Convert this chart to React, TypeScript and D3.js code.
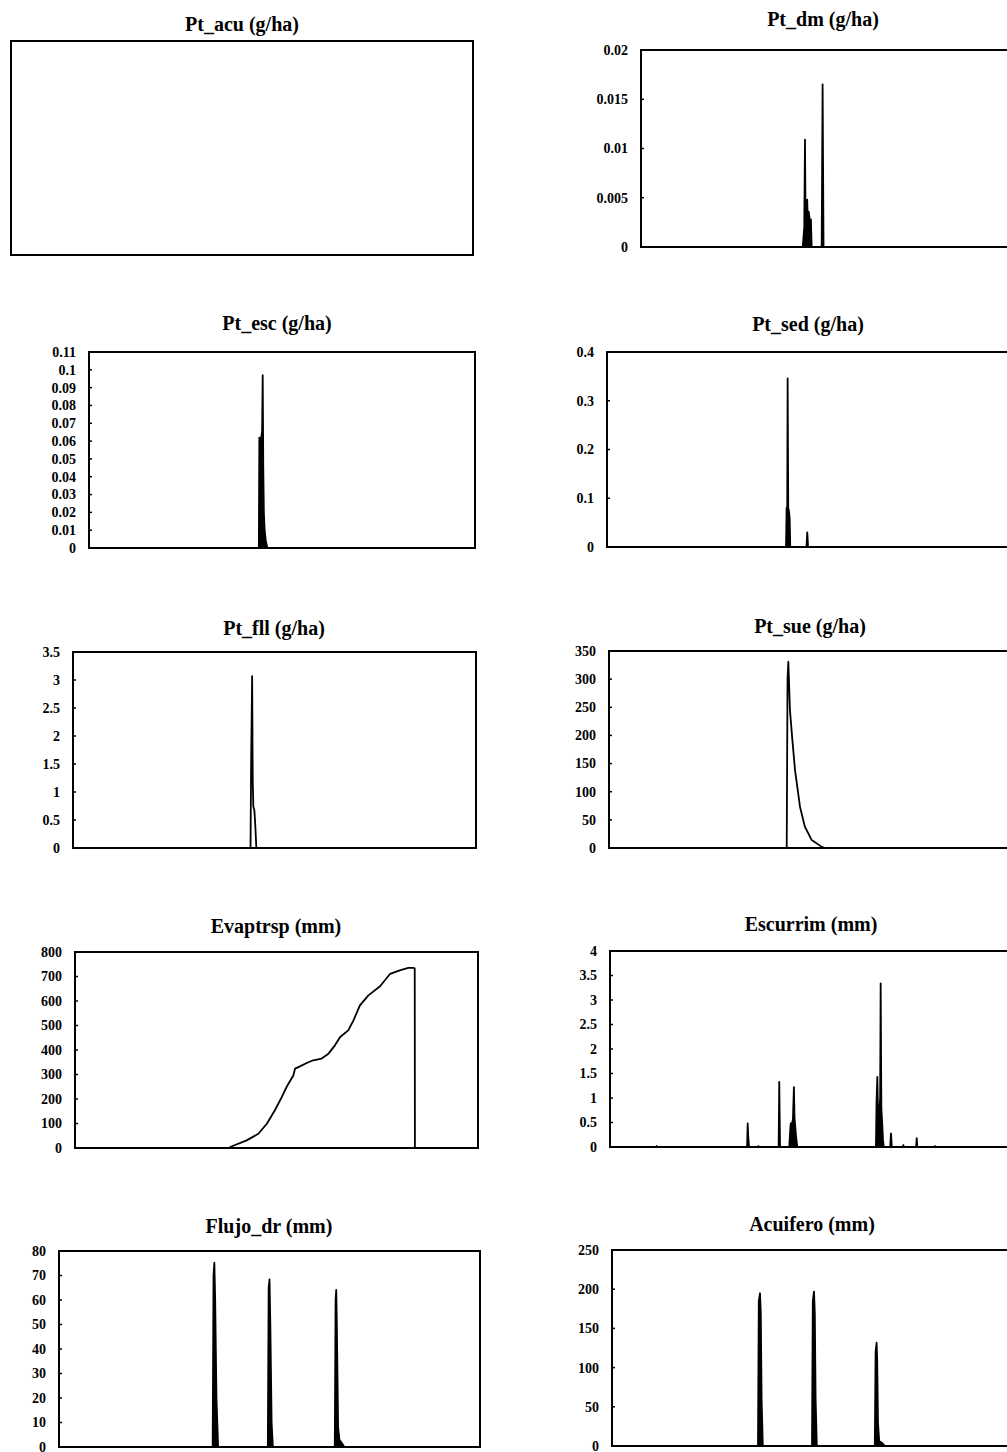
import React from "react";
import * as d3 from "d3";

type Punto = [number, number];

// eje X común a todos los paneles: paso de simulación
const dominioPasos: [number, number] = [0, 1000];

const titulos = [
  "Pt_acu (g/ha)",
  "Pt_esc (g/ha)",
  "Pt_fll (g/ha)",
  "Evaptrsp (mm)",
  "Flujo_dr (mm)",
  "Pt_dm (g/ha)",
  "Pt_sed (g/ha)",
  "Pt_sue (g/ha)",
  "Escurrim (mm)",
  "Acuifero (mm)",
];

// etiquetas del eje Y de cada panel
const ticksPtAcu: string[] = [];
const ticksPtEsc = ["0", "0.01", "0.02", "0.03", "0.04", "0.05", "0.06", "0.07", "0.08", "0.09", "0.1", "0.11"];
const ticksPtFll = ["0", "0.5", "1", "1.5", "2", "2.5", "3", "3.5"];
const ticksEvap = ["0", "100", "200", "300", "400", "500", "600", "700", "800"];
const ticksFlujo = ["0", "10", "20", "30", "40", "50", "60", "70", "80"];
const ticksPtDm = ["0", "0.005", "0.01", "0.015", "0.02"];
const ticksPtSed = ["0", "0.1", "0.2", "0.3", "0.4"];
const ticksPtSue = ["0", "50", "100", "150", "200", "250", "300", "350"];
const ticksEscurrim = ["0", "0.5", "1", "1.5", "2", "2.5", "3", "3.5", "4"];
const ticksAcuifero = ["0", "50", "100", "150", "200", "250"];

// series: [paso, valor]; entre puntos listados el valor es 0
const ptAcu: Punto[] = [];

const ptEsc: Punto[] = [
  [0, 0], [440, 0], [441.3, 0.062], [444, 0.06], [447, 0.063], [448.5, 0.066],
  [450, 0.097], [451.5, 0.045], [453, 0.02], [455, 0.01], [458, 0.004], [462, 0], [1000, 0],
];

const ptFll: Punto[] = [
  [0, 0], [440.5, 0], [442, 1.5], [444.5, 3.07], [446, 1.2], [447.5, 0.74],
  [450, 0.68], [452, 0.45], [455, 0], [1000, 0],
];

const evaptrsp: Punto[] = [
  [0, 0], [384, 0], [385, 4], [426, 31], [455, 58], [476, 99], [496, 154], [513, 208],
  [525, 249], [542, 297], [546, 324], [558, 333], [575, 347], [591, 358], [612, 365],
  [629, 385], [645, 419], [658, 453], [678, 480], [691, 521], [707, 582], [728, 623],
  [757, 660], [782, 711], [806, 725], [827, 735], [839, 735], [843, 733], [843.5, 0], [1000, 0],
];

const flujoDr: Punto[] = [
  [0, 0], [365, 0], [367, 70], [369, 75.2], [371, 60], [374, 20], [378, 0],
  [496, 0], [498, 65], [500, 68.4], [502, 50], [505, 10], [508, 0],
  [655, 0], [657, 60], [658.5, 64.1], [660, 50], [663, 8], [666, 3], [672, 1.5], [678, 0], [1000, 0],
];

const ptDm: Punto[] = [
  [0, 0], [436, 0], [440, 0.002], [442, 0.0109], [444, 0.001], [446, 0.0035],
  [448, 0.0048], [450, 0.002], [452, 0.0036], [454, 0.003], [456, 0.0012], [458, 0.0028],
  [460, 0], [487, 0], [489.5, 0.0165], [492, 0], [1000, 0],
];

const ptSed: Punto[] = [
  [0, 0], [442, 0], [443.5, 0.08], [445, 0.07], [446, 0.346], [447.5, 0.08], [449, 0.075],
  [451, 0.06], [452.5, 0], [492.5, 0], [494.5, 0.03], [496.5, 0], [1000, 0],
];

const ptSue: Punto[] = [
  [0, 0], [441, 0], [443, 300], [445, 331], [449, 245], [455, 192], [461.5, 139],
  [474, 73], [486, 38], [503, 14], [528, 2], [536, 0], [1000, 0],
];

const escurrim: Punto[] = [
  [0, 0], [115, 0], [116, 0.02], [117, 0], [341, 0], [342.5, 0.48], [344, 0.2], [346, 0],
  [368, 0], [369, 0.02], [370, 0], [419.5, 0], [421, 1.33], [423, 0],
  [446, 0], [448, 0.3], [449.5, 0.48], [451, 0.45], [453, 0.5], [455, 0.55], [457.5, 1.22],
  [459, 0.6], [461, 0.4], [463, 0.2], [466, 0],
  [661.5, 0], [663, 0.9], [665, 1.43], [666.5, 0.8], [668, 0.7], [670, 0.75], [672, 1.0],
  [673.3, 3.34], [675, 0.8], [677, 0.5], [679, 0.15], [681, 0],
  [697, 0], [699, 0.28], [701, 0], [728.5, 0], [729.6, 0.04], [731, 0],
  [761.5, 0], [763, 0.18], [764.5, 0], [807.5, 0], [808.5, 0.02], [809.5, 0], [1000, 0],
];

const acuifero: Punto[] = [
  [0, 0], [365, 0], [367, 185], [370, 194.8], [372, 170], [374, 60], [377, 0],
  [500, 0], [502, 185], [505, 196.9], [507, 170], [509, 60], [512, 0],
  [657, 0], [659, 120], [661.5, 131.8], [663, 110], [665, 30], [668, 6], [675, 4], [682, 0], [1000, 0],
];

const fuente = "'Liberation Serif', 'Times New Roman', serif";

type Panel = {
  titulo: string;
  datos: Punto[];
  ticks: string[];
  relleno: boolean;
  x0: number;
  x1: number;
  y0: number;
  y1: number;
  tx: number;
  ty: number;
};

// posición de cada marco (la columna derecha queda cortada por el borde)
const paneles: Panel[] = [
  { titulo: titulos[0], datos: ptAcu, ticks: ticksPtAcu, relleno: false, x0: 11, x1: 473, y0: 41, y1: 255, tx: 242, ty: 31 },
  { titulo: titulos[1], datos: ptEsc, ticks: ticksPtEsc, relleno: true, x0: 89, x1: 475, y0: 352, y1: 548, tx: 277, ty: 330 },
  { titulo: titulos[2], datos: ptFll, ticks: ticksPtFll, relleno: false, x0: 73, x1: 476, y0: 652, y1: 848, tx: 274, ty: 635 },
  { titulo: titulos[3], datos: evaptrsp, ticks: ticksEvap, relleno: false, x0: 75, x1: 478, y0: 952, y1: 1148, tx: 276, ty: 933 },
  { titulo: titulos[4], datos: flujoDr, ticks: ticksFlujo, relleno: true, x0: 59, x1: 480, y0: 1251, y1: 1447, tx: 269, ty: 1233 },
  { titulo: titulos[5], datos: ptDm, ticks: ticksPtDm, relleno: true, x0: 641, x1: 1012, y0: 50, y1: 247, tx: 823, ty: 26 },
  { titulo: titulos[6], datos: ptSed, ticks: ticksPtSed, relleno: true, x0: 607, x1: 1012, y0: 352, y1: 547, tx: 808, ty: 331 },
  { titulo: titulos[7], datos: ptSue, ticks: ticksPtSue, relleno: false, x0: 609, x1: 1012, y0: 651, y1: 848, tx: 810, ty: 633 },
  { titulo: titulos[8], datos: escurrim, ticks: ticksEscurrim, relleno: true, x0: 610, x1: 1012, y0: 951, y1: 1147, tx: 811, ty: 931 },
  { titulo: titulos[9], datos: acuifero, ticks: ticksAcuifero, relleno: true, x0: 612, x1: 1012, y0: 1250, y1: 1446, tx: 812, ty: 1231 },
];

const Grafico = ({ p, idx }: { p: Panel; idx: number }) => {
  const x = d3.scaleLinear().domain(dominioPasos).range([p.x0, p.x1]);
  const yMax = p.ticks.length ? +p.ticks[p.ticks.length - 1] : 1;
  const y = d3.scaleLinear().domain([0, yMax]).range([p.y1, p.y0]);

  const linea = d3
    .line<Punto>()
    .x((d) => x(d[0]))
    .y((d) => y(d[1]));
  const area = d3
    .area<Punto>()
    .x((d) => x(d[0]))
    .y0(y(0))
    .y1((d) => y(d[1]));

  const clipId = `marco-${idx}`;

  return (
    <g>
      <defs>
        <clipPath id={clipId}>
          <rect x={p.x0} y={p.y0 - 2} width={p.x1 - p.x0} height={p.y1 - p.y0 + 2} />
        </clipPath>
      </defs>

      <text
        x={p.tx}
        y={p.ty}
        textAnchor="middle"
        fontFamily={fuente}
        fontWeight="bold"
        fontSize={20}
        fill="#000"
      >
        {p.titulo}
      </text>

      {p.datos.length > 0 && (
        <g clipPath={`url(#${clipId})`}>
          {p.relleno && <path d={area(p.datos) || ""} fill="#000" />}
          <path
            d={linea(p.datos) || ""}
            fill="none"
            stroke="#000"
            strokeWidth={1.8}
            strokeLinejoin="round"
          />
        </g>
      )}

      {/* marcas y etiquetas del eje Y */}
      {p.ticks.map((t) => (
        <g key={t}>
          <line
            x1={p.x0}
            x2={p.x0 + 3}
            y1={y(+t)}
            y2={y(+t)}
            stroke="#000"
            strokeWidth={1.5}
          />
          <text
            x={p.x0 - 13}
            y={y(+t)}
            dy="0.35em"
            textAnchor="end"
            fontFamily={fuente}
            fontWeight="bold"
            fontSize={14}
            fill="#000"
          >
            {t}
          </text>
        </g>
      ))}

      <rect
        x={p.x0}
        y={p.y0}
        width={p.x1 - p.x0}
        height={p.y1 - p.y0}
        fill="none"
        stroke="#000"
        strokeWidth={2}
      />
    </g>
  );
};

export default function App() {
  return (
    <div
      style={{
        position: "absolute",
        left: 0,
        top: 0,
        width: 1007,
        height: 1452,
        overflow: "hidden",
        background: "#fff",
      }}
    >
      <svg width={1007} height={1452}>
        <rect x={0} y={0} width={1007} height={1452} fill="#fff" />
        {paneles.map((p, i) => (
          <Grafico key={p.titulo} p={p} idx={i} />
        ))}
      </svg>
    </div>
  );
}
